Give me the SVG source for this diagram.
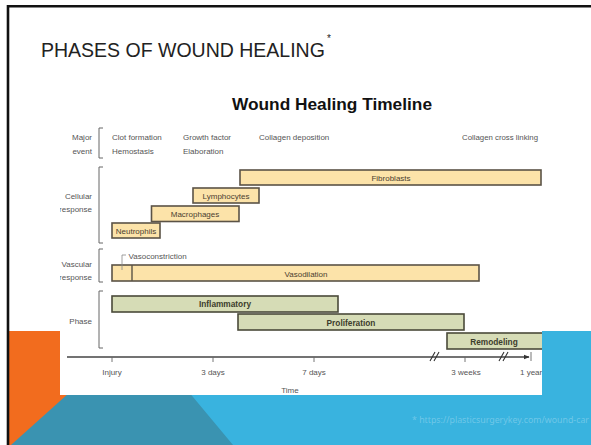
<svg xmlns="http://www.w3.org/2000/svg" width="591" height="445" viewBox="0 0 591 445">
<style>
.t{font-family:"Liberation Sans",Arial,sans-serif;font-size:8px;fill:#555}
.c{text-anchor:middle}
.e{text-anchor:end}
.bt{font-family:"Liberation Sans",Arial,sans-serif;font-size:8px;fill:#4a4030;text-anchor:middle}
.pt{font-family:"Liberation Sans",Arial,sans-serif;font-size:8.3px;font-weight:bold;fill:#3c3c2c;text-anchor:middle}
.cb{fill:#FCE3A9;stroke:#5b5346;stroke-width:1.6}
.pb{fill:#D6DCB6;stroke:#4a4a3a;stroke-width:1.6}
.br{fill:none;stroke:#666;stroke-width:1}
.ax{fill:none;stroke:#444;stroke-width:1.4}
</style>
<defs>
<clipPath id="img"><rect x="60" y="80" width="482" height="315"/></clipPath>
<marker id="arr" viewBox="0 0 10 10" refX="9" refY="5" markerWidth="6" markerHeight="6" markerUnits="userSpaceOnUse" orient="auto"><path d="M0,1 L10,5 L0,9 Z" fill="#333"/></marker>
</defs>
<rect width="591" height="445" fill="#fff"/>
<g id="background">
<rect x="9" y="331" width="140" height="114" fill="#F26C1E"/>
<rect x="138" y="331" width="453" height="114" fill="#39B3DF"/>
<polygon points="138,331 11,445 233,445" fill="#3A93B1"/>
</g>
<path d="M8,445 V6.2 H591" fill="none" stroke="#111" stroke-width="2.6"/>
<text x="41" y="57" font-family="'Liberation Sans',Arial,sans-serif" font-size="19.5" fill="#222">PHASES OF WOUND HEALING</text>
<text x="327" y="42" font-family="'Liberation Sans',Arial,sans-serif" font-size="10" fill="#222">*</text>
<text x="412" y="423" font-family="'Noto Sans','Liberation Sans',sans-serif" font-size="8.6" fill="#fff" fill-opacity="0.28" textLength="177" lengthAdjust="spacingAndGlyphs">* https://plasticsurgerykey.com/wound-car</text>

<rect id="image" x="60" y="80" width="482" height="315" fill="#fff"/>
<g clip-path="url(#img)">
<text x="232" y="109.5" font-family="'Liberation Sans',Arial,sans-serif" font-size="17" font-weight="bold" fill="#111" textLength="200" lengthAdjust="spacingAndGlyphs">Wound Healing Timeline</text>

<g id="row-labels">
<text class="t e" x="92" y="140">Major</text>
<text class="t e" x="92" y="154">event</text>
<text class="t e" x="92" y="199">Cellular</text>
<text class="t e" x="92" y="212">response</text>
<text class="t e" x="92" y="267">Vascular</text>
<text class="t e" x="92" y="280">response</text>
<text class="t e" x="92" y="324">Phase</text>
<path class="br" d="M103,128 H99 V158 H103"/>
<path class="br" d="M103,167 H99 V243 H103"/>
<path class="br" d="M103,249 H99 V282 H103"/>
<path class="br" d="M103,291 H99 V348 H103"/>
</g>

<g id="major-events">
<text class="t" x="112" y="140">Clot formation</text>
<text class="t" x="112" y="154">Hemostasis</text>
<text class="t" x="183" y="140">Growth factor</text>
<text class="t" x="183" y="154">Elaboration</text>
<text class="t" x="259" y="140">Collagen deposition</text>
<text class="t" x="462" y="140" textLength="76" lengthAdjust="spacingAndGlyphs">Collagen cross linking</text>
</g>

<g id="fibroblasts"><rect class="cb" x="240" y="170" width="301" height="15"/><text class="bt" x="391" y="181">Fibroblasts</text></g>
<g id="lymphocytes"><rect class="cb" x="193" y="188" width="66" height="15"/><text class="bt" x="226" y="199">Lymphocytes</text></g>
<g id="macrophages"><rect class="cb" x="151.5" y="206" width="87.5" height="15.5"/><text class="bt" x="195" y="217">Macrophages</text></g>
<g id="neutrophils"><rect class="cb" x="112" y="223" width="48" height="15"/><text class="bt" x="136" y="234">Neutrophils</text></g>

<g id="vascular">
<rect class="cb" x="112" y="265" width="367" height="16"/>
<line x1="132" y1="265" x2="132" y2="281" stroke="#5b5346" stroke-width="1.4"/>
<text class="bt" x="306" y="276.5">Vasodilation</text>
<path d="M126,255 H122 V270" fill="none" stroke="#888" stroke-width="0.8"/>
<text class="t" x="128.5" y="258.5">Vasoconstriction</text>
</g>

<g id="inflammatory"><rect class="pb" x="112" y="296" width="226" height="16"/><text class="pt" x="225" y="307">Inflammatory</text></g>
<g id="proliferation"><rect class="pb" x="238" y="314" width="226" height="16"/><text class="pt" x="351" y="325.5">Proliferation</text></g>
<g id="remodeling"><rect class="pb" x="447" y="333" width="96" height="16"/><text class="pt" x="494" y="344.5">Remodeling</text></g>

<g id="connectors">
<line class="ax" x1="67" y1="357" x2="529" y2="357" marker-end="url(#arr)"/>
<path d="M112,357 V362 M213,357 V362 M314,357 V362 M465,357 V362 M531,352 V361" stroke="#666" stroke-width="0.9" fill="none"/>
<path d="M430,361 L435,352 M434,361 L439,352 M499,361 L504,352 M503,361 L508,352" stroke="#333" stroke-width="1.1" fill="none"/>
</g>

<g id="axis-labels">
<text class="t c" x="112" y="375">Injury</text>
<text class="t c" x="213" y="375">3 days</text>
<text class="t c" x="314" y="375">7 days</text>
<text class="t c" x="466" y="375">3 weeks</text>
<text class="t" x="520" y="375">1 year</text>
<text class="t c" x="290" y="393">Time</text>
</g>
</g>
</svg>
